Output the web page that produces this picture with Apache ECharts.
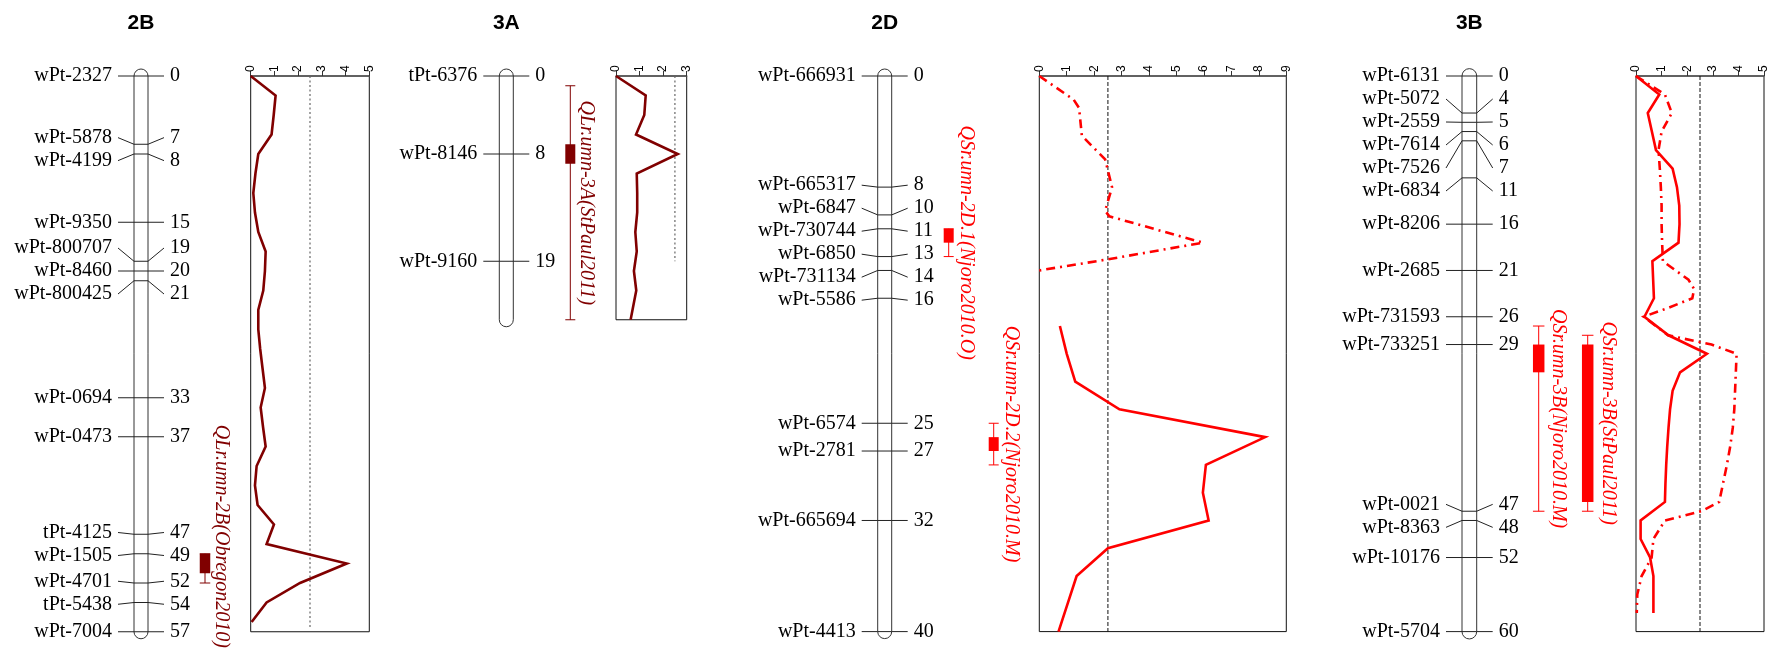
<!DOCTYPE html>
<html>
<head>
<meta charset="utf-8">
<script src="https://cdn.jsdelivr.net/npm/echarts@6/dist/echarts.min.js"></script>
<style>
  html, body { margin: 0; padding: 0; background: #fff; }
  #chart { width: 1771px; height: 649px; }
</style>
</head>
<body>
<div id="chart"></div>
<script>
// ---------- Linkage group 2B ----------
const markers2B = ['wPt-2327','wPt-5878','wPt-4199','wPt-9350','wPt-800707','wPt-8460','wPt-800425',
                   'wPt-0694','wPt-0473','tPt-4125','wPt-1505','wPt-4701','tPt-5438','wPt-7004'];
const cM2B = [0,7,8,15,19,20,21,33,37,47,49,52,54,57];
const length2B = 57;
const scanPos2B = [0,2,4,6,8,10,12,14,16,18,20,22,24,26,28,30,32,34,36,38,40,42,44,46,48,50,52,54,56];
const lod2B = [0,1.05,0.97,0.88,0.32,0.2,0.11,0.18,0.32,0.63,0.6,0.53,0.32,0.32,0.4,0.5,0.6,0.42,0.52,0.63,
               0.25,0.18,0.29,0.98,0.67,4.05,2.08,0.67,0.04];

// ---------- Linkage group 3A ----------
const markers3A = ['tPt-6376','wPt-8146','wPt-9160'];
const cM3A = [0,8,19];
const length3A = 25;
const scanPos3A = [0,2,4,6,8,10,12,14,16,18,20,22,24,25];
const lod3A = [0,1.26,1.2,0.85,2.62,0.88,0.9,0.9,0.82,0.88,0.76,0.86,0.7,0.62];

// ---------- Linkage group 2D ----------
const markers2D = ['wPt-666931','wPt-665317','wPt-6847','wPt-730744','wPt-6850','wPt-731134','wPt-5586',
                   'wPt-6574','wPt-2781','wPt-665694','wPt-4413'];
const cM2D = [0,8,10,11,13,14,16,25,27,32,40];
const length2D = 40;
const scanPos2D_O = [0,1.7,2.3,4.3,6,8,9.7,10.1,12,13.2,14];          // Njoro2010.O
const lod2D_O = [0,1.25,1.45,1.55,2.4,2.65,2.4,2.55,5.96,2.5,0];
const scanPos2D_M = [18,20,22,24,26,28,30,32,34,36,38,40];             // Njoro2010.M
const lod2D_M = [0.75,1.0,1.31,2.92,8.23,6.07,5.96,6.17,2.5,1.36,1.03,0.7];

// ---------- Linkage group 3B ----------
const markers3B = ['wPt-6131','wPt-5072','wPt-2559','wPt-7614','wPt-7526','wPt-6834','wPt-8206','wPt-2685',
                   'wPt-731593','wPt-733251','wPt-0021','wPt-8363','wPt-10176','wPt-5704'];
const cM3B = [0,4,5,6,7,11,16,21,26,29,47,48,52,60];
const length3B = 60;
const scanPos3B_M = [0,2,4,6,8,10,12,14,16,18,20,22,24,26,28,30,32,34,36,38,40,42,44,46,48,50,52,54,56,58]; // Njoro2010.M
const lod3B_M = [0,0.91,0.46,0.62,0.78,1.43,1.6,1.69,1.7,1.66,0.64,0.67,0.7,0.33,1.27,2.77,1.72,1.43,1.33,1.27,
                 1.22,1.18,1.15,1.13,0.18,0.18,0.55,0.68,0.68,0.68];
const scanPos3B_S = [0,2,4,6,8,10,12,14,16,18,20,22,23,24,25,26,28,29,30,32,34,36,38,40,42,44,46,47,48,50,52,54,56,58]; // StPaul2011
const lod3B_S = [0,1.13,1.4,1.0,0.88,0.93,0.97,1.0,1.0,1.02,1.05,2.05,2.27,2.2,1.3,0.3,1.25,2.95,3.93,3.9,
                 3.87,3.84,3.78,3.68,3.55,3.4,3.25,2.55,1.13,0.68,0.61,0.22,0.05,0.03];

const lodThreshold = 2.5;

// ---------- QTL intervals (cM) ----------
const qtlNames   = ['QLr.umn-2B(Obregon2010)','QLr.umn-3A(StPaul2011)','QSr.umn-2D.1(Njoro2010.O)',
                    'QSr.umn-2D.2(Njoro2010.M)','QSr.umn-3B(Njoro2010.M)','QSr.umn-3B(StPaul2011)'];
const qtlGroup   = ['2B','3A','2D','2D','3B','3B'];
const qtlSupport = [[49,52],[1,25],[11,13],[25,28],[27,47],[28,47]];   // LOD-2 drop
const qtlCore    = [[49,51],[7,9],[11,12],[26,27],[29,32],[29,46]];    // LOD-1 drop

// ---------- layout ----------
const DARK = '#800000', RED = '#ff0000';
const qtlOffset   = [57, 57, 57, 102, 62, 111];   // px right of chromosome
const qtlBoxW     = [10.5, 10, 10, 10, 11.5, 11.5];
const qtlLabelGap = [16.5, 15.5, 18, 17.5, 20, 20.5];

const panels = [
  { id:'2B', markers:markers2B, cM:cM2B, length:length2B, chrX:134, chrW:14, top:76, pxPerCM:9.75,
    lodX:250.7, lodW:118.6, lodMax:5, color:DARK, thrEnd:56.5, thrStyle:{color:'#666', type:[2,2.5], width:1.2},
    curves:[{pos:scanPos2B, lod:lod2B, dash:'solid'}] },
  { id:'3A', markers:markers3A, cM:cM3A, length:length3A, chrX:499.3, chrW:14, top:76, pxPerCM:9.75,
    lodX:616, lodW:70.7, lodMax:3, color:DARK, thrEnd:19, thrStyle:{color:'#666', type:[2,2.5], width:1.2},
    curves:[{pos:scanPos3A, lod:lod3A, dash:'solid'}] },
  { id:'2D', markers:markers2D, cM:cM2D, length:length2D, chrX:877.7, chrW:14, top:76, pxPerCM:13.89,
    lodX:1039.3, lodW:247, lodMax:9, color:RED, thrEnd:40, thrStyle:{color:'#111', type:[4,2], width:1},
    curves:[{pos:scanPos2D_O, lod:lod2D_O, dash:[9,5,2,5]}, {pos:scanPos2D_M, lod:lod2D_M, dash:'solid'}] },
  { id:'3B', markers:markers3B, cM:cM3B, length:length3B, chrX:1462, chrW:14.7, top:76, pxPerCM:9.26,
    lodX:1636, lodW:128, lodMax:5, color:RED, thrEnd:60, thrStyle:{color:'#111', type:[4,2], width:1},
    curves:[{pos:scanPos3B_M, lod:lod3B_M, dash:'solid'}, {pos:scanPos3B_S, lod:lod3B_S, dash:[9,5,2,5]}] }
];

const SERIF = '"Liberation Serif", "Times New Roman", serif';
const SANS = '"Liberation Sans", Arial, sans-serif';
const LABEL_GAP = 23;

// Push marker labels apart so that neighbours keep a minimum spacing.
function spreadLabels(ys, gap, lo, hi) {
  let cl = ys.map(y => ({ n: 1, sum: y }));
  const top = c => Math.max(lo, Math.min(hi - (c.n - 1) * gap, c.sum / c.n - (c.n - 1) * gap / 2));
  for (let changed = true; changed;) {
    changed = false;
    for (let i = 0; i < cl.length - 1; i++) {
      const a = cl[i], b = cl[i + 1];
      if (top(a) + a.n * gap > top(b) + 0.01) {
        cl.splice(i, 2, { n: a.n + b.n, sum: a.sum + b.sum });
        changed = true;
        break;
      }
    }
  }
  const out = [];
  cl.forEach(c => { const t = top(c); for (let k = 0; k < c.n; k++) out.push(t + k * gap); });
  return out;
}

const measureCtx = document.createElement('canvas').getContext('2d');
function textWidth(text, font) { measureCtx.font = font; return measureCtx.measureText(text).width; }

const grids = [], xAxes = [], yAxes = [], series = [];

panels.forEach((p, k) => {
  const h = p.length * p.pxPerCM;
  const gChr = 2 * k, gLod = 2 * k + 1;

  // chromosome grid
  grids.push({ left: p.chrX, top: p.top, width: p.chrW, height: h, show: false });
  xAxes.push({ type: 'value', gridIndex: gChr, min: 0, max: 1, show: false });
  yAxes.push({ type: 'value', gridIndex: gChr, min: 0, max: p.length, inverse: true, show: false });

  // LOD profile grid
  grids.push({ left: p.lodX, top: p.top, width: p.lodW, height: h, show: true,
               borderColor: '#111', borderWidth: 1, backgroundColor: 'transparent' });
  xAxes.push({
    type: 'value', gridIndex: gLod, position: 'top', min: 0, max: p.lodMax, interval: 1,
    axisLine: { show: true, onZero: false, lineStyle: { color: '#555', width: 1.5 } },
    axisTick: { show: true, length: 5, lineStyle: { color: '#333', width: 1 } },
    axisLabel: { show: true, rotate: -90, margin: 4, fontSize: 12, fontFamily: SANS, color: '#000',
                 showMinLabel: true, showMaxLabel: true },
    splitLine: { show: false }
  });
  yAxes.push({ type: 'value', gridIndex: gLod, min: 0, max: p.length, inverse: true, show: false });

  // chromosome bar, marker ticks and labels
  series.push({
    type: 'custom', xAxisIndex: gChr, yAxisIndex: gChr, clip: false, silent: true, z: 3,
    data: [[0, 0]],
    renderItem(params, api) {
      const xL = api.coord([0, 0])[0], xR = api.coord([1, 0])[0];
      const y0 = api.coord([0, 0])[1], y1 = api.coord([0, p.length])[1];
      const w = xR - xL;
      const ys = p.cM.map(c => api.coord([0, c])[1]);
      const ly = spreadLabels(ys, LABEL_GAP, y0, y1);
      const font = '20px ' + SERIF;
      const children = [{
        type: 'rect',
        shape: { x: xL, y: y0 - w / 2, width: w, height: y1 - y0 + w, r: w / 2 },
        style: { fill: '#fff', stroke: '#333', lineWidth: 1 }
      }];
      p.cM.forEach((c, i) => {
        children.push({
          type: 'polyline',
          shape: { points: [[xL - 16, ly[i]], [xL, ys[i]], [xR, ys[i]], [xR + 16, ly[i]]] },
          style: { fill: null, stroke: '#222', lineWidth: 1 }
        });
        children.push({ type: 'text', style: { text: p.markers[i], x: xL - 22, y: ly[i],
          align: 'right', verticalAlign: 'middle', font, fill: '#000' } });
        children.push({ type: 'text', style: { text: String(c), x: xR + 22, y: ly[i],
          align: 'left', verticalAlign: 'middle', font, fill: '#000' } });
      });
      return { type: 'group', children };
    }
  });

  // QTL support intervals
  const qIdx = qtlGroup.map((g, i) => g === p.id ? i : -1).filter(i => i >= 0);
  series.push({
    type: 'custom', xAxisIndex: gChr, yAxisIndex: gChr, clip: false, silent: true, z: 4,
    data: qIdx.map(i => [0, qtlSupport[i][0], i]),
    renderItem(params, api) {
      const i = api.value(2);
      const xR = api.coord([1, 0])[0];
      const cx = xR + qtlOffset[i];
      const bw = qtlBoxW[i];
      const s0 = api.coord([0, qtlSupport[i][0]])[1], s1 = api.coord([0, qtlSupport[i][1]])[1];
      const c0 = api.coord([0, qtlCore[i][0]])[1], c1 = api.coord([0, qtlCore[i][1]])[1];
      const font = 'italic 20px ' + SERIF;
      const half = textWidth(qtlNames[i], font) / 2;
      const cy = Math.min((s0 + s1) / 2, 649 - half - 1);
      const ln = { stroke: p.color, lineWidth: 1 };
      return {
        type: 'group',
        children: [
          { type: 'line', shape: { x1: cx, y1: s0, x2: cx, y2: s1 }, style: ln },
          { type: 'line', shape: { x1: cx - bw / 2, y1: s0, x2: cx + bw / 2, y2: s0 }, style: ln },
          { type: 'line', shape: { x1: cx - bw / 2, y1: s1, x2: cx + bw / 2, y2: s1 }, style: ln },
          { type: 'rect', shape: { x: cx - bw / 2, y: c0, width: bw, height: c1 - c0 },
            style: { fill: p.color, stroke: null } },
          { type: 'text', x: cx + qtlLabelGap[i], y: cy, rotation: -Math.PI / 2,
            style: { text: qtlNames[i], x: 0, y: 0, align: 'center', verticalAlign: 'middle',
                     font, fill: p.color } }
        ]
      };
    }
  });

  // significance threshold
  series.push({
    type: 'line', xAxisIndex: gLod, yAxisIndex: gLod, symbol: 'none', silent: true, z: 2,
    data: [[lodThreshold, 0], [lodThreshold, p.thrEnd]],
    lineStyle: p.thrStyle
  });

  // LOD profiles
  p.curves.forEach(cv => {
    series.push({
      type: 'line', xAxisIndex: gLod, yAxisIndex: gLod, symbol: 'none', silent: true, clip: false, z: 3,
      data: cv.pos.map((pos, j) => [cv.lod[j], pos]),
      lineStyle: { color: p.color, width: 2.6, type: cv.dash, cap: 'butt', join: 'miter' }
    });
  });
});

const chart = echarts.init(document.getElementById('chart'), null, { renderer: 'canvas' });
chart.setOption({
  animation: false,
  backgroundColor: '#fff',
  title: panels.map(p => ({
    text: p.id, left: p.chrX + p.chrW / 2, top: 13, textAlign: 'center', padding: 0,
    textStyle: { fontFamily: SANS, fontSize: 21, fontWeight: 'bold', color: '#000' }
  })),
  grid: grids,
  xAxis: xAxes,
  yAxis: yAxes,
  series
});
</script>
</body>
</html>
